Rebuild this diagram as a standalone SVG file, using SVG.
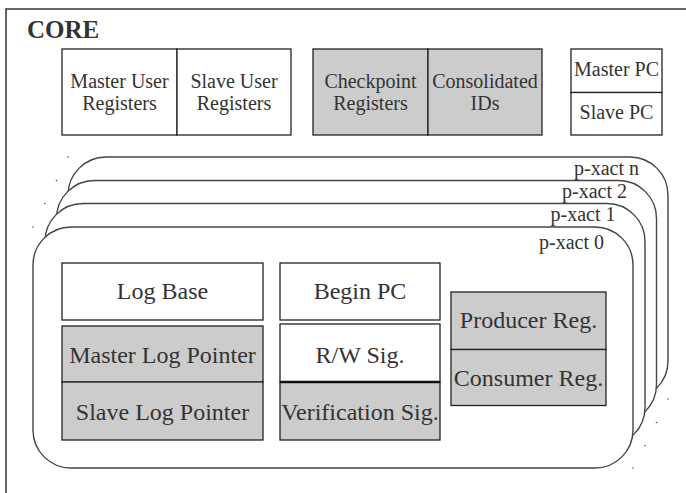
<svg xmlns="http://www.w3.org/2000/svg" width="686" height="493" viewBox="0 0 686 493" font-family="'Liberation Serif', 'Times New Roman', Tinos, 'DejaVu Serif', serif">
<style>
text{font-family:'Liberation Serif','Times New Roman',Tinos,'DejaVu Serif',serif;fill:#333}
.t{font-size:20px;text-anchor:middle}
.i{font-size:24px;text-anchor:middle}
.lbl{font-size:20px;text-anchor:end}
.box{stroke:#222;stroke-width:1.3}
.w{fill:#fff}
.g{fill:#ccc}
.layer{fill:#fff;stroke:#444;stroke-width:1.4}
.dot{fill:#555}
</style>
<rect x="0" y="0" width="686" height="493" fill="#fff"/>
<g id="core">
<rect x="6" y="9" width="700" height="500" fill="none" stroke="#333" stroke-width="1.5"/>
<text x="27" y="38" font-size="25" font-weight="bold">CORE</text>
</g>
<g id="user-registers">
<rect class="box w" x="62" y="49" width="115" height="86"/>
<rect class="box w" x="177" y="49" width="114" height="86"/>
<text class="t" x="119.5" y="88">Master User</text>
<text class="t" x="119.5" y="110">Registers</text>
<text class="t" x="234" y="88">Slave User</text>
<text class="t" x="234" y="110">Registers</text>
</g>
<g id="checkpoint">
<rect class="box g" x="313" y="49" width="115" height="86"/>
<rect class="box g" x="428" y="49" width="114" height="86"/>
<text class="t" x="370.5" y="88">Checkpoint</text>
<text class="t" x="370.5" y="110">Registers</text>
<text class="t" x="485" y="88">Consolidated</text>
<text class="t" x="485" y="110">IDs</text>
</g>
<g id="pc">
<rect class="box w" x="571" y="49" width="91" height="43.5"/>
<rect class="box w" x="571" y="92.5" width="91" height="42.5"/>
<text class="t" x="616.5" y="76">Master PC</text>
<text class="t" x="616.5" y="119">Slave PC</text>
</g>
<g id="p-xact-n">
<rect class="layer" x="68" y="157" width="600" height="242" rx="38" ry="38"/>
<text class="lbl" x="639" y="175">p-xact n</text>
</g>
<g id="p-xact-2">
<rect class="layer" x="56.5" y="180.5" width="600" height="242" rx="38" ry="38"/>
<text class="lbl" x="627" y="198">p-xact 2</text>
</g>
<g id="p-xact-1">
<rect class="layer" x="45" y="203.5" width="600" height="242" rx="38" ry="38"/>
<text class="lbl" x="615.5" y="221">p-xact 1</text>
</g>
<g id="p-xact-0">
<rect class="layer" x="33" y="227" width="600" height="241" rx="38" ry="38"/>
<text class="lbl" x="604" y="249">p-xact 0</text>
</g>
<g id="dots">
<circle class="dot" cx="68" cy="157" r="0.8"/>
<circle class="dot" cx="56.5" cy="180.5" r="0.8"/>
<circle class="dot" cx="45" cy="203.5" r="0.8"/>
<circle class="dot" cx="33" cy="227" r="0.8"/>
<circle class="dot" cx="668" cy="399" r="0.8"/>
<circle class="dot" cx="656.5" cy="422.5" r="0.8"/>
<circle class="dot" cx="645" cy="445.5" r="0.8"/>
<circle class="dot" cx="633" cy="468" r="0.8"/>
</g>
<g id="log">
<rect class="box w" x="62" y="263" width="201" height="57"/>
<text class="i" x="162.5" y="299">Log Base</text>
<rect class="box g" x="62" y="326" width="201" height="56"/>
<text class="i" x="162.5" y="362.5">Master Log Pointer</text>
<rect class="box g" x="62" y="382" width="201" height="58"/>
<text class="i" x="162.5" y="419.5">Slave Log Pointer</text>
</g>
<g id="sig">
<rect class="box w" x="280" y="263" width="160" height="57"/>
<text class="i" x="360" y="299">Begin PC</text>
<rect class="box w" x="280" y="324" width="160" height="58"/>
<text class="i" x="360" y="362.5">R/W Sig.</text>
<rect class="box g" x="280" y="382" width="160" height="58"/>
<line x1="280" y1="382" x2="440" y2="382" stroke="#111" stroke-width="2.5"/>
<text class="i" x="360" y="419.5">Verification Sig.</text>
</g>
<g id="reg">
<rect class="box g" x="451" y="292" width="155" height="57.5"/>
<text class="i" x="528.5" y="328">Producer Reg.</text>
<rect class="box g" x="451" y="349.5" width="155" height="56"/>
<text class="i" x="528.5" y="385.5">Consumer Reg.</text>
</g>
<g id="connectors"></g>
</svg>
